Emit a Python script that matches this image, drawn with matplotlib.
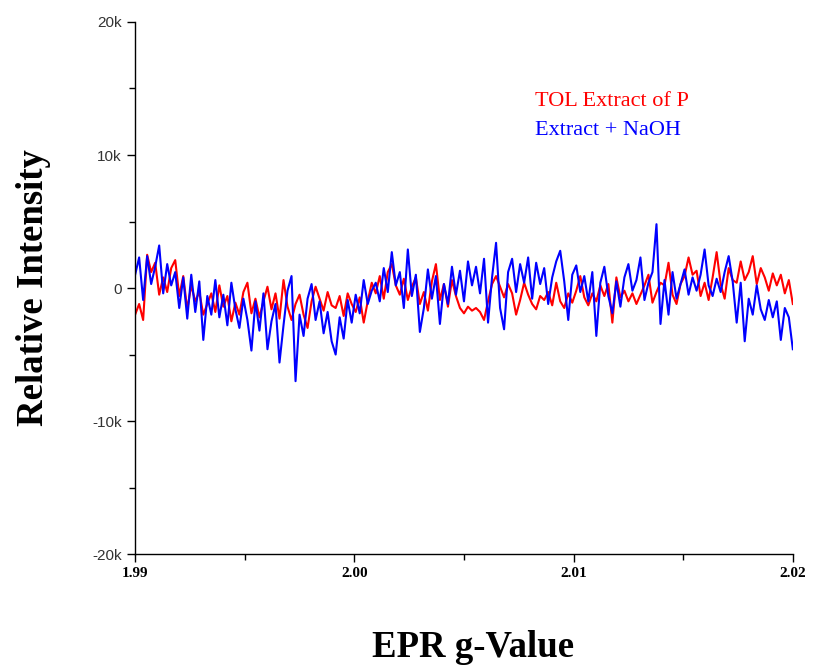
import numpy as np
import matplotlib
matplotlib.use("Agg")
import matplotlib.pyplot as plt
from matplotlib.ticker import MultipleLocator, FuncFormatter

# g-value sweep (start, end) and intensities in thousands
g_start, g_end = 1.99, 2.02

tol_extract = [
    -2.0, -1.2, -2.4, 2.5, 1.2, 1.9, -0.5, 0.8, -0.3, 1.5,
    2.1, -0.6, 0.9, -1.6, 0.2, -1.0, -0.3, -2.0, -1.2, -0.4,
    -1.8, 0.2, -1.4, -0.6, -2.5, -1.1, -2.0, -0.3, 0.4, -1.9,
    -0.8, -2.2, -1.0, 0.1, -1.6, -0.4, -2.3, 0.6, -1.4, -2.4,
    -1.2, -0.5, -2.0, -3.0, -1.0, 0.1, -0.8, -1.7, -0.3, -1.3,
    -1.5, -0.6, -2.1, -0.4, -1.2, -1.8, -0.7, -2.6, -1.0, 0.4,
    -0.4, 0.9, -0.8, 1.2, 1.8, 0.2, -0.5, 0.7, -0.9, 0.1,
    0.8, -1.2, -0.3, -1.7, 0.5, 1.8, -0.9, 0.3, -1.4, 0.6,
    -0.6, -1.5, -1.9, -1.4, -1.7, -1.5, -1.8, -2.4, -1.0, 0.3,
    0.9, 0.1, -0.7, 0.3, -0.4, -2.0, -0.9, 0.4, -0.5, -1.2,
    -1.6, -0.6, -0.9, -0.3, -1.3, 0.4, -1.0, -1.5, -0.4, -1.1,
    -0.2, 0.9, -0.7, -1.3, -0.4, -1.0, 0.2, -0.6, 0.3, -2.6,
    0.8, -0.7, -0.2, -1.0, -0.4, -1.2, -0.5, 0.2, 1.0, -1.1,
    -0.3, 0.4, 0.2, 1.9, -0.5, -1.2, 0.3, 0.9, 2.3, 1.0,
    1.3, -0.6, 0.4, -0.9, 0.8, 2.7, 0.3, -0.8, 1.5, 0.6,
    0.4, 2.0, 0.6, 1.2, 2.4, 0.3, 1.5, 0.8, -0.2, 1.1,
    0.2, 1.0, -0.4, 0.6, -1.2,
]

extract_naoh = [
    1.0, 2.3, -0.9, 2.4, 0.3, 1.6, 3.2, -0.4, 1.8, 0.2,
    1.2, -1.5, 0.8, -2.3, 1.0, -1.8, 0.5, -3.9, -0.6, -2.0,
    0.6, -2.2, -0.5, -2.8, 0.4, -1.6, -3.0, -0.8, -2.4, -4.7,
    -1.0, -3.2, -0.4, -4.6, -2.5, -1.2, -5.6, -2.8, -0.2, 0.9,
    -7.0, -2.0, -3.6, -0.8, 0.3, -2.4, -1.0, -3.4, -1.8, -4.0,
    -5.0, -2.2, -3.8, -0.9, -2.6, -0.5, -1.9, 0.6, -1.2, -0.2,
    0.4, -1.0, 1.5, -0.3, 2.7, 0.2, 1.2, -1.5, 2.9, -0.6,
    1.0, -3.3, -1.5, 1.4, -0.8, 0.9, -2.7, 0.3, -1.2, 1.6,
    -0.5, 1.3, -1.0, 2.0, 0.2, 1.6, -0.4, 2.2, -2.6, 0.8,
    3.4, -1.5, -3.1, 1.2, 2.2, -0.3, 1.8, 0.4, 2.3, -0.8,
    1.9, 0.3, 1.5, -1.2, 0.8, 2.0, 2.8, 0.5, -2.4, 1.0,
    1.7, -0.3, 0.9, -1.0, 1.2, -3.6, 0.4, 1.6, -0.6, -1.9,
    0.5, -1.4, 0.8, 1.8, -0.2, 0.6, 2.3, -0.9, 0.4, 1.2,
    4.8, -2.7, 0.6, -2.0, 1.2, -0.8, 0.3, 1.4, -0.5, 0.8,
    -0.2, 1.0, 2.9, 0.2, -0.6, 0.7, -0.3, 1.2, 2.4, 0.5,
    -2.6, 0.4, -4.0, -0.8, -2.0, 0.2, -1.6, -2.4, -0.9, -2.2,
    -1.0, -3.9, -1.5, -2.2, -4.6,
]

g_red = np.linspace(g_start, g_end, len(tol_extract))
g_blue = np.linspace(g_start, g_end, len(extract_naoh))

fig = plt.figure(figsize=(8.14, 6.66), dpi=100)
ax = fig.add_axes([0.166, 0.168, 0.808, 0.799])

ax.plot(g_red, np.array(tol_extract) * 1000, color='#ff0000', lw=1.5, label="TOL Extract of P")
ax.plot(g_blue, np.array(extract_naoh) * 1000, color='#0000ff', lw=1.5, label="Extract + NaOH")

ax.set_xlim(g_start, g_end)
ax.set_ylim(-20000, 20000)
ax.spines['top'].set_visible(False)
ax.spines['right'].set_visible(False)
for s in ['left', 'bottom']:
    ax.spines[s].set_linewidth(1.0)

ax.xaxis.set_major_locator(MultipleLocator(0.01))
ax.xaxis.set_minor_locator(MultipleLocator(0.005))
ax.yaxis.set_major_locator(MultipleLocator(10000))
ax.yaxis.set_minor_locator(MultipleLocator(5000))
ax.yaxis.set_major_formatter(FuncFormatter(lambda v, p: "0" if v == 0 else "%dk" % (v / 1000)))
ax.xaxis.set_major_formatter(FuncFormatter(lambda v, p: "%.2f" % v))
ax.tick_params(which='major', direction='out', length=6, width=1)
ax.tick_params(which='minor', direction='out', length=4, width=1)

for t in ax.get_xticklabels():
    t.set_fontfamily('Liberation Serif')
    t.set_fontweight('bold')
    t.set_fontsize(11)
for t in ax.get_yticklabels():
    t.set_fontfamily('Liberation Sans')
    t.set_fontsize(11)
    t.set_color('#333333')

ax.set_xlabel("EPR g-Value", fontfamily='Liberation Serif', fontweight='bold', fontsize=26.5)
ax.xaxis.set_label_coords(0.514, -0.142)
ax.set_ylabel("Relative Intensity", fontfamily='Liberation Serif', fontweight='bold', fontsize=26.5, labelpad=30)

leg = ax.legend(loc='upper left', bbox_to_anchor=(0.591, 0.893), frameon=False,
                handlelength=0, handletextpad=0, labelspacing=0.4, borderpad=0,
                prop={'family': 'Liberation Serif', 'size': 16})
for txt, line in zip(leg.get_texts(), leg.get_lines()):
    txt.set_color(line.get_color())
    line.set_visible(False)

plt.savefig("out.png", dpi=100)
plt.close()
